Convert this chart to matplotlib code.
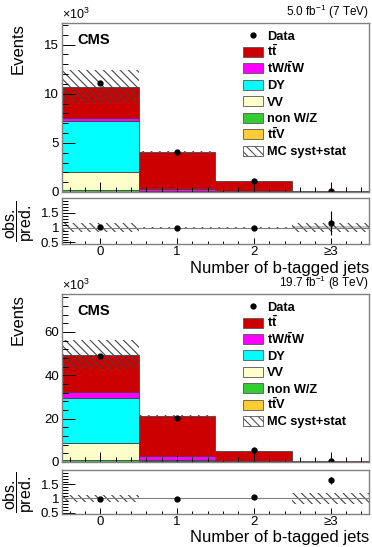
import matplotlib
matplotlib.use("Agg")
import matplotlib.pyplot as plt
from matplotlib.patches import Rectangle
from matplotlib.ticker import MultipleLocator, FixedLocator
import numpy as np

plt.rcParams['font.family'] = ['Liberation Sans', 'DejaVu Sans']
plt.rcParams['mathtext.fontset'] = 'custom'
plt.rcParams['mathtext.rm'] = 'Liberation Sans'
plt.rcParams['mathtext.bf'] = 'Liberation Sans:bold'
plt.rcParams['hatch.linewidth'] = 0.8

# bins: number of b-tagged jets
bins = [0, 1, 2, 3]
bin_labels = ["0", "1", "2", "\u22653"]

# ---- 7 TeV (x10^3 events) ----
ttv_7 = [0.03, 0.02, 0.01, 0.002]
nonwz_7 = [0.15, 0.02, 0.005, 0.0]
vv_7 = [1.85, 0.03, 0.005, 0.001]
dy_7 = [5.17, 0.08, 0.01, 0.002]
tw_7 = [0.33, 0.20, 0.05, 0.005]
tt_7 = [3.20, 3.75, 1.03, 0.08]
mcerr_7 = [1.68, 0.06, 0.03, 0.01]
data_7 = [11.05, 4.12, 1.10, 0.10]
ratio_7 = [1.03, 1.00, 1.00, 1.15]
ratio_err_7 = [0.01, 0.015, 0.03, 0.40]
band_7 = [0.16, 0.02, 0.03, 0.15]
gray_7 = [0.0, 0.0, 0.0, 0.06]

# ---- 8 TeV (x10^3 events) ----
ttv_8 = [0.10, 0.10, 0.05, 0.01]
nonwz_8 = [1.0, 0.10, 0.02, 0.0]
vv_8 = [7.8, 0.10, 0.02, 0.005]
dy_8 = [20.7, 0.40, 0.05, 0.01]
tw_8 = [2.6, 1.9, 0.40, 0.03]
tt_8 = [17.2, 18.5, 4.50, 0.35]
mcerr_8 = [6.7, 0.4, 0.15, 0.05]
data_8 = [49.1, 20.4, 5.35, 0.55]
ratio_8 = [0.99, 0.97, 1.05, 1.65]
ratio_err_8 = [0.01, 0.01, 0.02, 0.12]
band_8 = [0.13, 0.02, 0.03, 0.20]
gray_8 = [0.0, 0.0, 0.0, 0.0]

names = [r"$\mathbf{t\bar{t}}$", r"$\mathbf{tW/\bar{t}W}$", "DY", "VV", "non W/Z",
         r"$\mathbf{t\bar{t}V}$"]
colors = ["#cc0000", "#ff00ff", "#00ffff", "#ffffcc", "#33cc33", "#ffcc33"]
frame_col = "#808080"
hatch = "\\\\\\\\"


def style_axis(ax, ymaj, ymin, xmaj_len, xmin_len, ymaj_len, ymin_len):
    for s in ax.spines.values():
        s.set_color(frame_col)
        s.set_linewidth(1.0)
    ax.set_xlim(-0.5, 3.5)
    ax.xaxis.set_major_locator(FixedLocator(bins))
    ax.xaxis.set_minor_locator(MultipleLocator(0.2))
    ax.yaxis.set_major_locator(MultipleLocator(ymaj))
    ax.yaxis.set_minor_locator(MultipleLocator(ymin))
    ax.tick_params(axis='x', which='major', direction='in', length=xmaj_len, width=0.7)
    ax.tick_params(axis='x', which='minor', direction='in', length=xmin_len, width=0.7)
    ax.tick_params(axis='y', which='major', direction='in', length=ymaj_len, width=0.7, labelsize=9.5, pad=2)
    ax.tick_params(axis='y', which='minor', direction='in', length=ymin_len, width=0.7)


def draw_legend(ax):
    # hand-placed legend, rows evenly spaced like the ROOT one
    y0, dy = 0.927, 0.0975
    px, pw, ph, tx = 0.59, 0.065, 0.06, 0.668
    labels = ["Data"] + names + ["MC syst+stat"]
    for i, lab in enumerate(labels):
        y = y0 - i * dy
        if i == 0:
            ax.plot([px + pw / 2], [y], 'o', color='black', ms=3.5, transform=ax.transAxes,
                    clip_on=False)
        elif i <= len(colors):
            ax.add_patch(Rectangle((px, y - ph / 2), pw, ph, facecolor=colors[i - 1],
                                   edgecolor="#555555", lw=0.6, transform=ax.transAxes))
        else:
            ax.add_patch(Rectangle((px, y - ph / 2), pw, ph, facecolor='white', hatch=hatch,
                                   edgecolor="#555555", lw=0.6, transform=ax.transAxes))
        ax.text(tx, y - 0.027, lab, transform=ax.transAxes, fontsize=9.2,
                fontweight='bold', ha='left', va='baseline')


def draw_panel(ax, rax, comps, mcerr, data, ratio, ratio_err, band, gray, ymax, ymaj, lumi):
    # stack: bottom to top
    stack = [comps[5], comps[4], comps[3], comps[2], comps[1], comps[0]]
    stack_cols = [colors[5], colors[4], colors[3], colors[2], colors[1], colors[0]]
    bottom = np.zeros(4)
    for vals, c in zip(stack, stack_cols):
        ax.bar(bins, vals, width=1.0, bottom=bottom, color=c, edgecolor="#444444", linewidth=0.6)
        bottom = bottom + np.array(vals)
    total = bottom
    err = np.array(mcerr)
    ax.bar(bins, 2 * err, width=1.0, bottom=total - err, fill=False, hatch=hatch,
           edgecolor="#444444", linewidth=0)
    ax.errorbar(bins, data, yerr=np.sqrt(np.array(data) / 1000.0), fmt='o', color='black',
                ms=3.5, elinewidth=0.8, capsize=0)

    style_axis(ax, ymaj, 1 if ymaj == 5 else 4, 7, 3.5, 9.5, 4.5)
    ax.set_ylim(0, ymax)
    ax.tick_params(axis='x', labelbottom=False)
    ax.set_ylabel("Events", fontsize=12, loc='top')
    ax.yaxis.set_label_coords(-0.12, 1.0)
    ax.text(0.0, 1.005, r"$\times$10$^{3}$", transform=ax.transAxes, fontsize=9,
            ha='left', va='bottom')
    ax.text(1.0, 1.012, lumi, transform=ax.transAxes, fontsize=8.5, ha='right', va='bottom')
    ax.text(0.05, 0.90, "CMS", transform=ax.transAxes, fontsize=10.5, fontweight='bold',
            ha='left', va='center')
    draw_legend(ax)

    # ratio panel
    rax.axhline(1.0, color=frame_col, lw=0.8)
    g = np.array(gray)
    rax.bar(bins, 2 * g, width=1.0, bottom=1 - g, color="#c8c8c8", linewidth=0)
    b = np.array(band)
    rax.bar(bins, 2 * b, width=1.0, bottom=1 - b, fill=False, hatch=hatch,
            edgecolor="#444444", linewidth=0)
    rax.errorbar(bins, ratio, yerr=ratio_err, fmt='o', color='black', ms=3.5,
                 elinewidth=0.8, capsize=0)
    style_axis(rax, 0.5, 0.1, 4, 2.5, 9, 4.5)
    rax.set_ylim(0.45, 2.0)
    rax.yaxis.set_major_locator(FixedLocator([0.5, 1.0, 1.5]))
    rax.set_yticklabels(["0.5", "1", "1.5"])
    rax.set_xticks(bins)
    rax.set_xticklabels(bin_labels, fontsize=9.5)
    rax.tick_params(axis='x', which='major', pad=1.5)
    rax.set_ylabel(r"$\dfrac{\mathrm{obs.}}{\mathrm{pred.}}$", fontsize=11.5)
    rax.yaxis.set_label_coords(-0.08, 0.5)
    rax.set_xlabel("Number of b-tagged jets", fontsize=12, loc='right')
    rax.xaxis.set_label_coords(1.0, -0.36)


fig = plt.figure(figsize=(3.72, 5.47), dpi=100)
left, width = 0.1667, 0.825
ax1 = fig.add_axes([left, 0.649, width, 0.309])
r1 = fig.add_axes([left, 0.554, width, 0.084])
ax2 = fig.add_axes([left, 0.1554, width, 0.307])
r2 = fig.add_axes([left, 0.0603, width, 0.080])

draw_panel(ax1, r1, [tt_7, tw_7, dy_7, vv_7, nonwz_7, ttv_7], mcerr_7, data_7,
           ratio_7, ratio_err_7, band_7, gray_7, 17.2, 5, r"5.0 fb$^{-1}$ (7 TeV)")
draw_panel(ax2, r2, [tt_8, tw_8, dy_8, vv_8, nonwz_8, ttv_8], mcerr_8, data_8,
           ratio_8, ratio_err_8, band_8, gray_8, 77.5, 20, r"19.7 fb$^{-1}$ (8 TeV)")

fig.savefig("out.png", dpi=100)
